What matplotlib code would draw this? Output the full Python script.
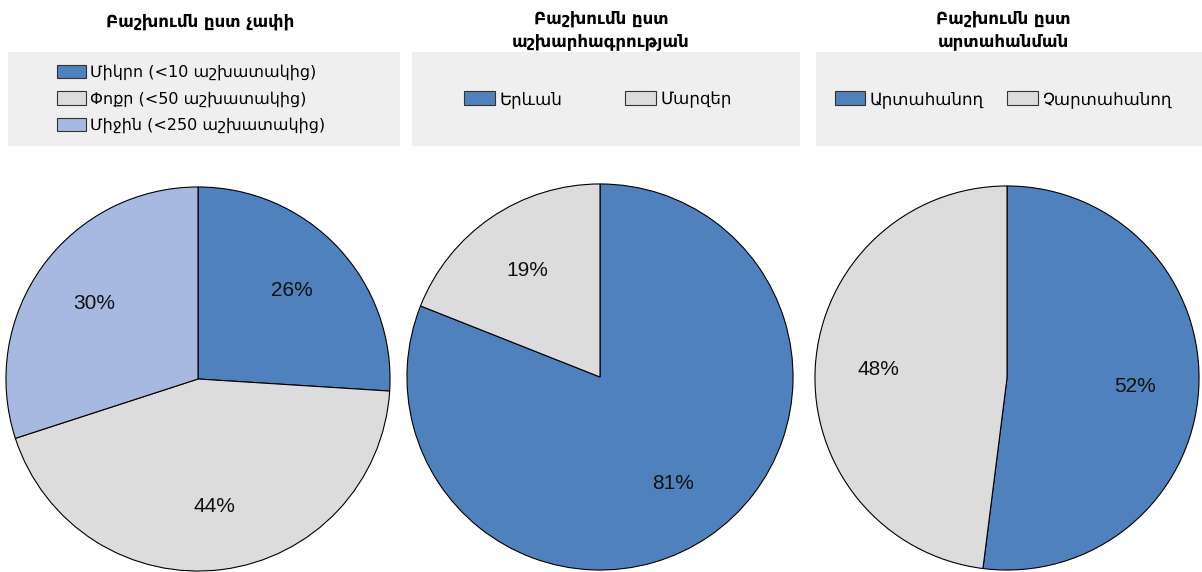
import matplotlib
matplotlib.use("Agg")
from matplotlib import pyplot as plt
from matplotlib.patches import Rectangle, Patch

plt.rcParams['font.family'] = ['DejaVu Sans Condensed', 'DejaVu Sans']

# data
titles = ["Բաշխումն ըստ չափի",
          "Բաշխումն ըստ\nաշխարհագրության",
          "Բաշխումն ըստ\nարտահանման"]

size_labels = ["Միկրո (<10 աշխատակից)", "Փոքր (<50 աշխատակից)", "Միջին (<250 աշխատակից)"]
size_values = [26, 44, 30]

geo_labels = ["Երևան", "Մարզեր"]
geo_values = [81, 19]

export_labels = ["Արտահանող", "Չարտահանող"]
export_values = [52, 48]

blue = "#4f81bd"
grey = "#dcdcdc"
lightblue = "#a7b9e1"
size_colors = [blue, grey, lightblue]
geo_colors = [blue, grey]
export_colors = [blue, grey]

W, H = 1202, 572
fig = plt.figure(figsize=(W / 100, H / 100), dpi=100)


def px_axes(cx, cy, r):
    return fig.add_axes([(cx - r) / W, (H - cy - r) / H, 2 * r / W, 2 * r / H])


def draw_pie(cx, cy, r, values, colors):
    ax = px_axes(cx, cy, r)
    ax.pie(values, colors=colors, startangle=90, counterclock=False,
           autopct='%d%%', pctdistance=0.67,
           wedgeprops=dict(edgecolor='black', linewidth=0.8),
           textprops=dict(fontsize=15, color='#111111', family='Liberation Sans'))
    ax.set_xlim(-1.005, 1.005)
    ax.set_ylim(-1.005, 1.005)
    ax.set_aspect('equal')
    ax.axis('off')
    return ax


def legend_box(x0, y0, x1, y1, labels, colors, ncol, cx, fs=12, **kw):
    fig.patches.append(Rectangle((x0 / W, 1 - y1 / H), (x1 - x0) / W, (y1 - y0) / H,
                                 transform=fig.transFigure, facecolor='#efefef',
                                 edgecolor='none', zorder=0))
    handles = [Patch(facecolor=c, edgecolor='#333333', linewidth=0.8) for c in colors]
    fig.legend(handles, labels, ncol=ncol, frameon=False, fontsize=fs,
               handlelength=1.85, handleheight=0.9, handletextpad=0.25,
               bbox_to_anchor=(cx / W, 1 - (y0 + y1) / 2 / H),
               loc='center', **kw)


draw_pie(198, 379, 193, size_values, size_colors)
draw_pie(600, 377, 194, geo_values, geo_colors)
draw_pie(1007, 378, 193, export_values, export_colors)

legend_box(8, 52, 400, 146, size_labels, size_colors, 1, cx=191, fs=11.5, labelspacing=0.68)
legend_box(412, 52, 800, 146, geo_labels, geo_colors, 2, cx=598, columnspacing=3.8)
legend_box(816, 52, 1202, 146, export_labels, export_colors, 2, cx=1003, columnspacing=1.4)

title_pos = [(200, 22), (601, 30), (1003, 30)]
for (tx, ty), t in zip(title_pos, titles):
    fig.text(tx / W, 1 - ty / H, t, ha='center', va='center', fontsize=12,
             fontweight='bold', linespacing=1.3)

fig.savefig("out.png", dpi=100)
